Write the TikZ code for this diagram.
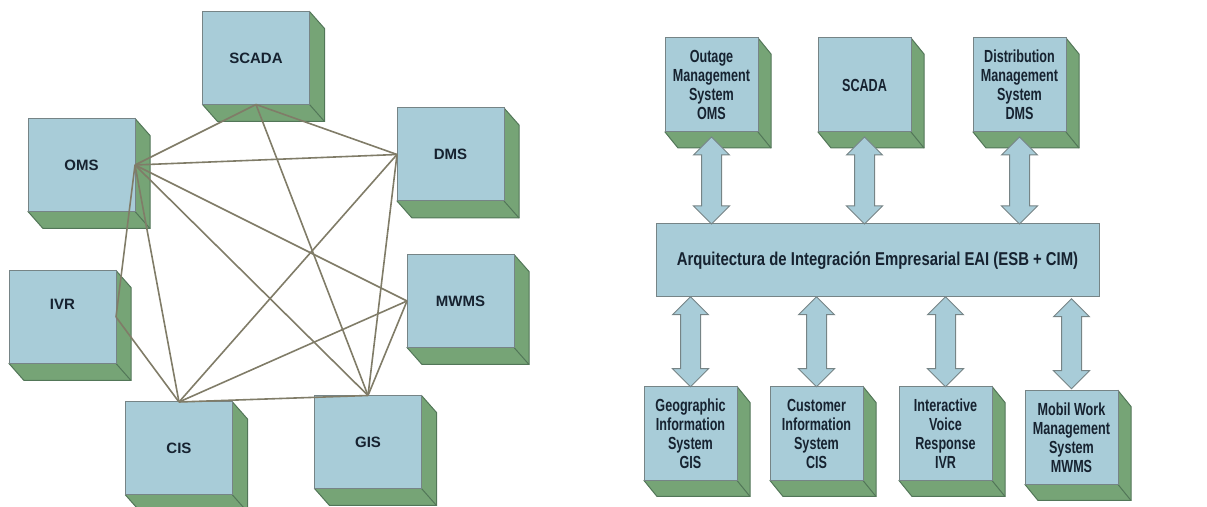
\documentclass[tikz,border=0pt]{standalone}
\usepackage{fontspec}
\setmainfont{Liberation Sans}
\newfontfamily\tallsf{Liberation Sans}[FakeStretch=0.72]
\newfontfamily\bussf{Liberation Sans}[FakeStretch=0.8]
\usetikzlibrary{shapes.arrows,positioning,backgrounds,calc}
\definecolor{boxblue}{RGB}{168,204,216}
\definecolor{boxgreen}{RGB}{118,164,118}
\definecolor{edgegreen}{RGB}{82,118,88}
\definecolor{boxline}{RGB}{118,132,134}
\definecolor{meshline}{RGB}{128,124,104}
\definecolor{labelink}{RGB}{22,34,48}
\tikzset{
  cube/.style={rectangle, draw=boxline, fill=boxblue, line width=0.5pt, outer sep=0pt,
               align=center, text=labelink, font=\bfseries\fontsize{7.5}{9}\selectfont,
               minimum width=53.5pt, minimum height=46.5pt},
  cubetall/.style={cube, font=\tallsf\bfseries\fontsize{8.75}{9.5}\selectfont,
               minimum width=46.5pt, minimum height=47pt},
  busbox/.style={cube, font=\bussf\bfseries\fontsize{9.3}{10}\selectfont,
               minimum width=221.5pt, minimum height=36.5pt},
  side/.style={fill=boxgreen, draw=edgegreen, line width=0.5pt},
  link/.style={meshline, line width=0.8pt},
  fatarrow/.style={double arrow, draw=boxline, fill=boxblue, line width=0.5pt, rotate=90,
               inner xsep=0pt, inner ysep=4.75pt, minimum width=17.5pt, double arrow head extend=4pt},
}

\begin{document}
\begin{tikzpicture}[x=0.5pt, y=-0.5pt]
\useasboundingbox (0,0) rectangle (1207,507);

% ---- Left: point-to-point mesh ----
\node[cube] (scada) at (256,58) {SCADA};
\node[cube] (oms) at (81.5,165) {OMS};
\node[cube, text depth=13pt] (ivr) at (62.5,317) {IVR};
\node[cube] (dms) at (450.5,154.5) {DMS};
\node[cube] (mwms) at (460.5,301) {MWMS};
\node[cube] (cis) at (179,448.5) {CIS};
\node[cube] (gis) at (368,442) {GIS};

% ---- Right: top row, bus, bottom row ----
\node[cubetall] (oms2) at (711.5,85) {Outage\\Management\\System\\OMS};
\node[cubetall, right=30pt of oms2] (scada2) {SCADA};
\node[cubetall, right=31pt of scada2] (dms2) {Distribution\\Management\\System\\DMS};
\node[busbox] (eai) at (877.5,260.5) {Arquitectura de Integración Empresarial EAI (ESB + CIM)};
\node[cubetall] (gis2) at (690.5,433.5) {Geographic\\Information\\System\\GIS};
\node[cubetall, right=16.5pt of gis2] (cis2) {Customer\\Information\\System\\CIS};
\node[cubetall, right=18pt of cis2] (ivr2) {Interactive\\Voice\\Response\\IVR};
\node[cubetall, right=16.5pt of ivr2, yshift=-2pt] (mwms2) {Mobil Work\\Management\\System\\MWMS};

% ---- 3D sides ----
\begin{scope}[on background layer]
\foreach \n/\dx/\dy in {scada/15/17, oms/15/17, ivr/15/17, dms/15/17, mwms/15/17, cis/15/17, gis/15/17,
                        oms2/13/16, scada2/13/16, dms2/13/16, gis2/13/16, cis2/13/16, ivr2/13/16, mwms2/13/16} {
  \filldraw[side] (\n.north east) -- ++(\dx,\dy) -- ($(\n.south east)+(\dx,\dy)$)
    -- ($(\n.south west)+(\dx,\dy)$) -- (\n.south west) -- cycle;
  \draw[side] (\n.south east) -- ++(\dx,\dy);
}
\end{scope}

% ---- Mesh links ----
\foreach \a/\b in {scada.south/oms.east, scada.south/dms.west, scada.south/gis.north,
                   oms.east/dms.west, oms.east/mwms.west, oms.east/gis.north, oms.east/cis.north,
                   oms.east/ivr.east, dms.west/cis.north, dms.west/gis.north,
                   mwms.west/cis.north, mwms.west/gis.north, ivr.east/cis.north, cis.north/gis.north}
  \draw[link] (\a) -- (\b);

% ---- Bus arrows ----
\foreach \b in {oms2, scada2, dms2}
  \path ($(\b.south)+(0,5)$) -- (\b.south |- eai.north) node[midway, fatarrow, minimum height=43.5pt] {};
\foreach \b in {gis2, cis2, ivr2, mwms2}
  \path (\b.north |- eai.south) -- (\b.north) node[midway, fatarrow, minimum height=45pt] {};
\end{tikzpicture}
\end{document}
